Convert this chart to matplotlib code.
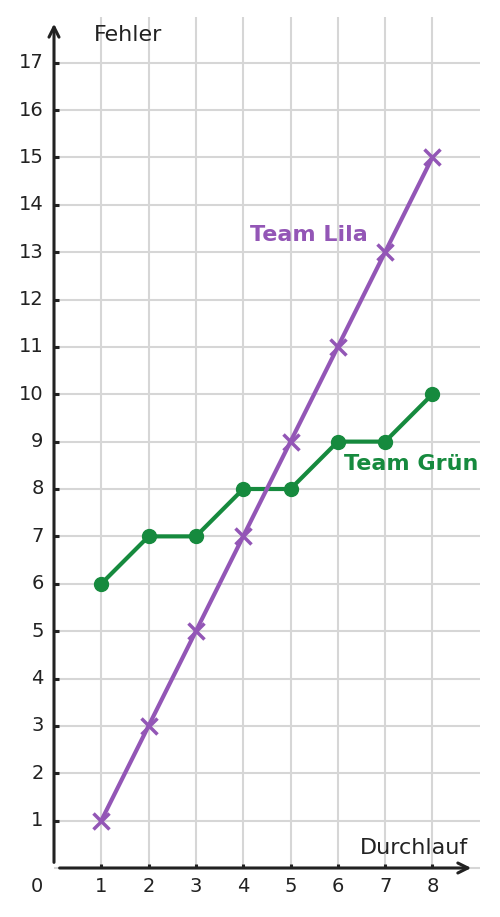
import matplotlib
matplotlib.use("Agg")
import matplotlib.pyplot as plt

# data
durchlauf = [1, 2, 3, 4, 5, 6, 7, 8]
lila = [1, 3, 5, 7, 9, 11, 13, 15]
gruen = [6, 7, 7, 8, 8, 9, 9, 10]
x_ticks = [1, 2, 3, 4, 5, 6, 7, 8]
y_ticks = list(range(1, 18))

PURPLE = "#9356b6"
GREEN = "#168a3e"
DARK = "#222222"
GRID = "#d6d6d6"

fig = plt.figure(figsize=(5, 9.17), dpi=100)
ax = fig.add_axes([0, 0, 1, 1])
# pixel -> data mapping: x = (px-54)/47.3, y = (868-py)/47.375
ax.set_xlim(-54 / 47.3, (500 - 54) / 47.3)
ax.set_ylim((868 - 917) / 47.375, 868 / 47.375)
ax.axis("off")

# grid
ax.vlines(x_ticks, 0, 17.97, color=GRID, lw=1.5, zorder=1)
ax.hlines([0] + y_ticks, 0, 9.0, color=GRID, lw=1.5, zorder=1)

# axes with arrows
ax.annotate("", xy=(8.88, 0), xytext=(0.06, 0),
            arrowprops=dict(arrowstyle="->", color=DARK, lw=2.2, mutation_scale=18))
ax.annotate("", xy=(0, 17.88), xytext=(0, 0.06),
            arrowprops=dict(arrowstyle="->", color=DARK, lw=2.2, mutation_scale=18))

# ticks
for x in x_ticks:
    ax.plot([x, x], [0, 0.09], color=DARK, lw=2.2, solid_capstyle="butt", zorder=2)
    ax.text(x, -0.38, str(x), ha="center", va="center", fontsize=14, color=DARK)
for y in y_ticks:
    ax.plot([0, 0.1], [y, y], color=DARK, lw=2.2, solid_capstyle="butt", zorder=2)
    ax.text(-0.22, y, str(y), ha="right", va="center", fontsize=14, color=DARK)
ax.text(-0.36, -0.38, "0", ha="center", va="center", fontsize=14, color=DARK)

# axis titles
ax.text(0.85, 17.59, "Fehler", ha="left", va="center", fontsize=16, color=DARK)
ax.text(8.75, 0.42, "Durchlauf", ha="right", va="center", fontsize=16, color=DARK)

# series
ax.plot(durchlauf, lila, color=PURPLE, lw=3, marker="x", markersize=11,
        markeredgewidth=2.5, zorder=4)
ax.plot(durchlauf, gruen, color=GREEN, lw=3, marker="o",
        markersize=10, zorder=3)

ax.text(6.64, 13.37, "Team Lila", ha="right", va="center", fontsize=16,
        fontweight="bold", color=PURPLE)
ax.text(6.13, 8.53, "Team Grün", ha="left", va="center", fontsize=16,
        fontweight="bold", color=GREEN)

fig.savefig("out.png", dpi=100, facecolor="white")
